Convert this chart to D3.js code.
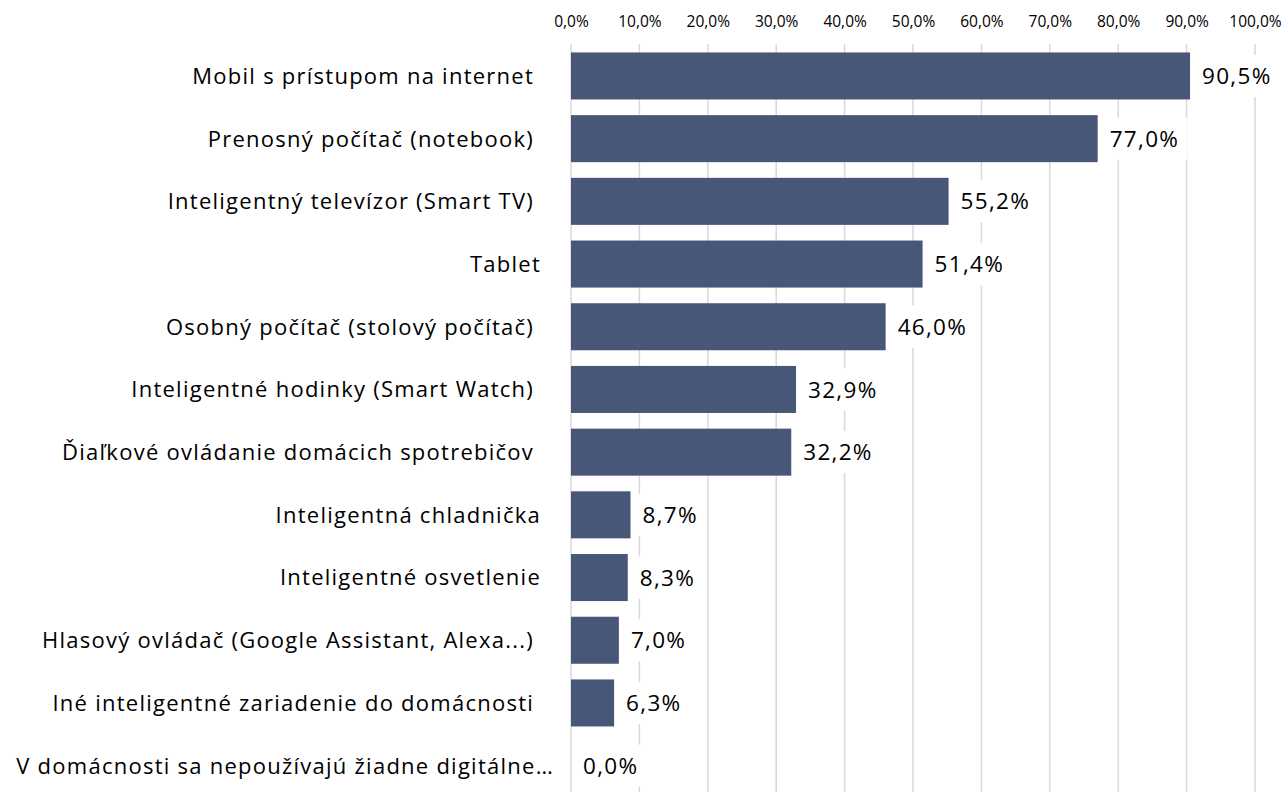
<!DOCTYPE html>
<html><head><meta charset="utf-8">
<script src="https://cdn.jsdelivr.net/npm/d3@7"></script>
<style>
body{margin:0;background:#fff;}
text{font-family:"Open Sans",sans-serif;white-space:pre;}
</style></head>
<body><svg id="c" width="1283" height="792"></svg>
<script>
const categories = [
 "Mobil s prístupom na internet ",
 "Prenosný počítač (notebook) ",
 "Inteligentný televízor (Smart TV) ",
 "Tablet",
 "Osobný počítač (stolový počítač) ",
 "Inteligentné hodinky (Smart Watch) ",
 "Ďiaľkové ovládanie domácich spotrebičov ",
 "Inteligentná chladnička",
 "Inteligentné osvetlenie",
 "Hlasový ovládač (Google Assistant, Alexa...) ",
 "Iné inteligentné zariadenie do domácnosti ",
 "V domácnosti sa nepoužívajú žiadne digitálne…"
];
const values = [90.5, 77.0, 55.2, 51.4, 46.0, 32.9, 32.2, 8.7, 8.3, 7.0, 6.3, 0.0];
const tickValues = [0,10,20,30,40,50,60,70,80,90,100];

const fmt = v => v.toFixed(1).replace(".", ",") + "%";
const svg = d3.select("#c");
const x = d3.scaleLinear().domain([0,100]).range([571,1255]);
const y = d3.scaleBand().domain(categories).range([44.6,797]).paddingInner(0.25).paddingOuter(0.125);

// gridlines
svg.append("g").selectAll("line").data(tickValues).join("line")
  .attr("x1", d=>x(d)).attr("x2", d=>x(d)).attr("y1", 44).attr("y2", 792)
  .attr("stroke", "#d9d9d9").attr("stroke-width", 1.5);

// top axis labels
const ax = svg.append("g").attr("transform","translate(0,27)")
  .call(d3.axisTop(x).tickValues(tickValues).tickFormat(fmt).tickSize(0).tickPadding(0));
ax.select(".domain").remove();
ax.selectAll("text").attr("font-size", 15.5).attr("dy", 0).attr("fill","#000")
  .style("font-family",'"Open Sans",sans-serif');

// bars
svg.append("g").selectAll("rect").data(values).join("rect")
  .attr("x", x(0)).attr("y", (d,i)=>y(categories[i]))
  .attr("width", d=>x(d)-x(0)).attr("height", y.bandwidth())
  .attr("fill", "#485677");

// value labels with white box
const lg = svg.append("g").selectAll("g").data(values).join("g")
  .attr("transform", (d,i)=>`translate(${x(d)},${y(categories[i])+y.bandwidth()/2})`);
const lt = lg.append("text").attr("x", 12).attr("dy","0.36em")
  .attr("font-size", 22.5).attr("letter-spacing", 1.3).attr("fill","#000").text(d=>fmt(d));
lt.each(function(){
  const w = this.getComputedTextLength();
  d3.select(this.parentNode).insert("rect","text")
    .attr("x", 6).attr("y", -21).attr("width", w+14).attr("height", 42).attr("fill","#fff");
});

// category labels
svg.append("g").selectAll("text").data(categories).join("text")
  .attr("x", (d,i)=> i===categories.length-1 ? 554 : 541)
  .attr("y", d=>y(d)+y.bandwidth()/2).attr("dy","0.36em")
  .attr("text-anchor","end").attr("font-size", 22).attr("letter-spacing", 1.25).attr("fill","#000")
  .text(d=>d);
</script></body></html>
